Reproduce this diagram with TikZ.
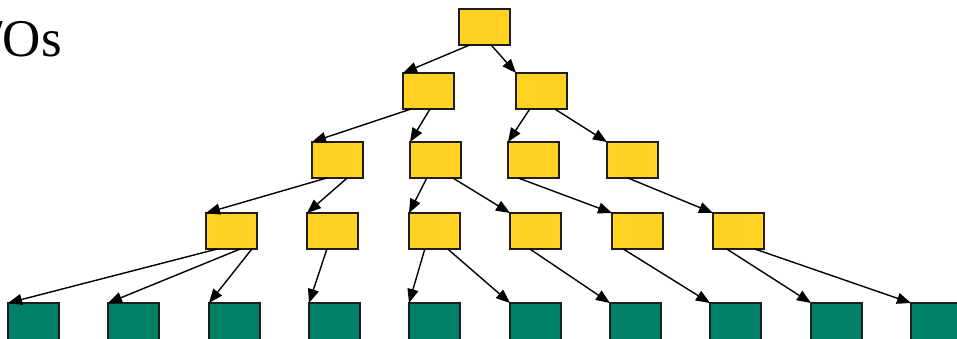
\documentclass[tikz,border=0pt]{standalone}
\usepackage{fontspec}
\setmainfont{Liberation Serif}
\usetikzlibrary{arrows.meta,calc}
\definecolor{boxyellow}{RGB}{255,210,35}
\definecolor{leafgreen}{RGB}{0,128,102}
\definecolor{edgegray}{RGB}{30,30,30}
\tikzset{
  treebox/.style={draw=edgegray, line width=1.4pt, fill=boxyellow,
    minimum width=51pt, minimum height=36pt, inner sep=0pt, outer sep=0pt,
    anchor=north west},
  leafbox/.style={treebox, fill=leafgreen, minimum height=40pt},
  link/.style={draw=black, line width=1.4pt,
    -{Triangle[length=14pt,width=11pt]}},
}
% edge from a point at fraction #2 along the bottom of #1 to the top-left corner of #3
\newcommand{\treelink}[3]{%
  \draw[link] ($(#1.south west)!#2!(#1.south east)$) -- (#3.north west);}
\begin{document}
\begin{tikzpicture}[x=1pt,y=-1pt]
\useasboundingbox (0,0) rectangle (957,339);
\clip (0,0) rectangle (957,339);

\node[font=\fontsize{53}{55}\selectfont, anchor=base west, inner sep=0pt]
  (title) at (-12,57) {/Os};

% root and first level
\node[treebox] (r)  at (459,9) {};
\node[treebox] (a1) at (403,73) {};
\node[treebox] (a2) at (516,73) {};

% second level
\node[treebox] (b1) at (312,142) {};
\node[treebox] (b2) at (410,142) {};
\node[treebox] (b3) at (508,142) {};
\node[treebox] (b4) at (607,142) {};

% third level
\node[treebox] (c1) at (206,213) {};
\node[treebox] (c2) at (307,213) {};
\node[treebox] (c3) at (409,213) {};
\node[treebox] (c4) at (510,213) {};
\node[treebox] (c5) at (612,213) {};
\node[treebox] (c6) at (713,213) {};

% leaves
\foreach \i/\x in {1/8,2/108,3/209,4/309,5/409,6/510,7/610,8/710,9/811,10/911}
  \node[leafbox] (d\i) at (\x,303) {};

% connectors
\treelink{r}{0.21}{a1}
\treelink{r}{0.63}{a2}

\treelink{a1}{0.16}{b1}
\treelink{a1}{0.53}{b2}
\treelink{a2}{0.27}{b3}
\treelink{a2}{0.76}{b4}

\treelink{b1}{0.29}{c1}
\treelink{b1}{0.69}{c2}
\treelink{b2}{0.33}{c3}
\treelink{b2}{0.84}{c4}
\treelink{b3}{0.20}{c5}
\treelink{b4}{0.41}{c6}

\treelink{c1}{0.22}{d1}
\treelink{c1}{0.67}{d2}
\treelink{c1}{0.90}{d3}
\treelink{c2}{0.39}{d4}
\treelink{c3}{0.31}{d5}
\treelink{c3}{0.76}{d6}
\treelink{c4}{0.39}{d7}
\treelink{c5}{0.22}{d8}
\treelink{c6}{0.27}{d9}
\treelink{c6}{0.82}{d10}
\end{tikzpicture}
\end{document}
